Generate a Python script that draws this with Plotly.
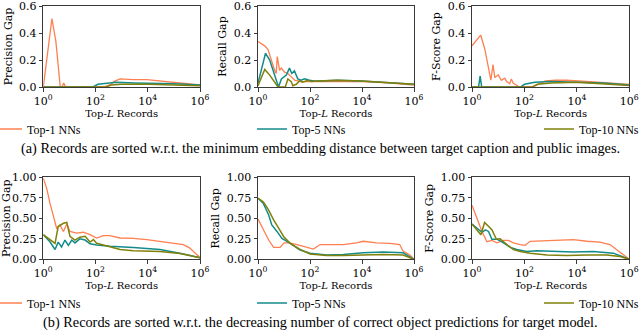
import plotly.graph_objects as go

# ---------------- data (x given as log10 of Top-L) ----------------
series_names = ["Top-1 NNs", "Top-5 NNs", "Top-10 NNs"]
colors = ["#ff7f50", "#138b8b", "#80800a"]

# (a) sorted by minimum embedding distance
a_prec_top1_logL = [0, 0.33, 0.48, 0.65, 0.72, 0.78, 0.85, 1.5, 2.3, 2.6, 2.7, 2.94, 3.2, 3.45, 3.96, 4.47, 5.23, 6.0]
a_prec_top1 = [0, 0.507, 0.34, 0.0, 0.0, 0.03, 0.0, 0.0, 0.0, 0.02, 0.04, 0.06, 0.055, 0.055, 0.055, 0.045, 0.03, 0.015]
a_prec_top5_logL = [0, 1.9, 2.09, 2.4, 2.8, 3.5, 4.0, 5.0, 6.0]
a_prec_top5 = [0, 0, 0.02, 0.025, 0.035, 0.03, 0.03, 0.025, 0.015]
a_prec_top10_logL = [0, 2.4, 2.6, 3.0, 4.0, 5.0, 6.0]
a_prec_top10 = [0, 0, 0.015, 0.02, 0.02, 0.015, 0.01]

a_rec_top1_logL = [0, 0.26, 0.38, 0.51, 0.64, 0.7, 0.74, 0.83, 0.9, 1.02, 1.15, 1.28, 1.41, 1.66, 1.92, 2.5, 3.0, 4.0, 5.0, 6.0]
a_rec_top1 = [0.337, 0.305, 0.28, 0.196, 0.124, 0.10, 0.226, 0.124, 0.14, 0.11, 0.10, 0.075, 0.05, 0.04, 0.04, 0.04, 0.045, 0.04, 0.03, 0.015]
a_rec_top5_logL = [0, 0.29, 0.45, 0.57, 0.7, 0.79, 0.9, 1.09, 1.21, 1.3, 1.4, 1.53, 1.66, 1.79, 1.98, 2.17, 2.43, 3.07, 3.96, 4.98, 6.0]
a_rec_top5 = [0.03, 0.25, 0.20, 0.13, 0.045, 0.0, 0.06, 0.088, 0.14, 0.10, 0.12, 0.06, 0.05, 0.06, 0.05, 0.045, 0.045, 0.05, 0.045, 0.03, 0.02]
a_rec_top10_logL = [0, 0.26, 0.45, 0.64, 0.77, 0.9, 1.05, 1.15, 1.28, 1.34, 1.47, 1.6, 1.72, 1.92, 2.05, 2.3, 3.0, 4.0, 5.0, 6.0]
a_rec_top10 = [0.01, 0.13, 0.088, 0.04, 0.0, 0.0, 0.0, 0.06, 0.04, 0.01, 0.02, 0.045, 0.035, 0.05, 0.04, 0.045, 0.05, 0.045, 0.03, 0.02]

a_f_top1_logL = [0, 0.33, 0.49, 0.61, 0.72, 0.8, 0.87, 1.0, 1.12, 1.25, 1.32, 1.44, 1.5, 1.57, 1.7, 1.8, 2.3, 2.6, 2.8, 3.2, 3.6, 4.5, 5.2, 6.0]
a_f_top1 = [0.305, 0.385, 0.28, 0.16, 0.05, 0.167, 0.07, 0.09, 0.05, 0.065, 0.04, 0.025, 0.06, 0.03, 0.01, 0.0, 0.0, 0.03, 0.045, 0.05, 0.05, 0.04, 0.03, 0.02]
a_f_top5_logL = [0, 0.25, 0.31, 0.37, 1.0, 1.85, 2.0, 2.4, 3.0, 4.0, 5.0, 6.0]
a_f_top5 = [0, 0, 0.08, 0, 0, 0, 0.02, 0.035, 0.04, 0.035, 0.03, 0.015]
a_f_top10_logL = [0, 2.3, 2.5, 3.0, 4.0, 5.0, 6.0]
a_f_top10 = [0, 0, 0.02, 0.03, 0.035, 0.025, 0.012]

# (b) sorted by decreasing number of correct object predictions
b_prec_top1_logL = [0, 0.13, 0.26, 0.38, 0.51, 0.64, 0.77, 0.9, 1.02, 1.28, 1.53, 1.79, 2.04, 2.3, 2.55, 2.94, 3.45, 3.96, 4.47, 4.98, 5.36, 5.6, 5.8, 6.0]
b_prec_top1 = [0.99, 0.866, 0.68, 0.52, 0.38, 0.42, 0.34, 0.43, 0.34, 0.32, 0.33, 0.30, 0.26, 0.29, 0.29, 0.26, 0.255, 0.24, 0.22, 0.20, 0.18, 0.14, 0.085, 0.02]
b_prec_top5_logL = [0, 0.26, 0.45, 0.57, 0.7, 0.83, 0.96, 1.09, 1.21, 1.4, 1.6, 1.79, 2.04, 2.55, 3.45, 4.47, 5.23, 6.0]
b_prec_top5 = [0.30, 0.21, 0.12, 0.21, 0.15, 0.235, 0.17, 0.235, 0.20, 0.25, 0.235, 0.19, 0.175, 0.16, 0.145, 0.12, 0.075, 0.02]
b_prec_top10_logL = [0, 0.26, 0.45, 0.57, 0.77, 0.9, 1.02, 1.21, 1.4, 1.6, 1.79, 1.92, 2.04, 2.3, 2.55, 2.94, 3.45, 4.47, 5.23, 6.0]
b_prec_top10 = [0.30, 0.235, 0.195, 0.40, 0.44, 0.45, 0.28, 0.235, 0.27, 0.28, 0.21, 0.24, 0.195, 0.175, 0.155, 0.12, 0.105, 0.095, 0.07, 0.02]

b_rec_top1_logL = [0, 0.21, 0.41, 0.6, 0.85, 1.0, 1.2, 1.5, 1.88, 2.13, 2.39, 2.77, 3.28, 3.79, 4.05, 4.56, 5.07, 5.45, 5.58, 5.84, 6.0]
b_rec_top1 = [0.49, 0.36, 0.235, 0.146, 0.146, 0.20, 0.20, 0.18, 0.15, 0.125, 0.18, 0.18, 0.18, 0.20, 0.22, 0.20, 0.195, 0.18, 0.10, 0.052, 0.0]
b_rec_top5_logL = [0, 0.21, 0.41, 0.53, 0.73, 0.92, 1.24, 1.62, 2.0, 2.64, 3.28, 4.05, 4.81, 5.58, 6.0]
b_rec_top5 = [0.745, 0.68, 0.54, 0.42, 0.34, 0.256, 0.195, 0.113, 0.073, 0.053, 0.06, 0.08, 0.09, 0.08, 0.0]
b_rec_top10_logL = [0, 0.21, 0.41, 0.6, 0.8, 0.99, 1.24, 1.62, 2.0, 2.64, 3.28, 4.05, 4.81, 5.58, 6.0]
b_rec_top10 = [0.745, 0.70, 0.60, 0.48, 0.378, 0.276, 0.195, 0.12, 0.065, 0.045, 0.045, 0.053, 0.06, 0.053, 0.0]

b_f_top1_logL = [0, 0.19, 0.38, 0.57, 0.76, 0.95, 1.2, 1.39, 1.58, 1.84, 2.03, 2.22, 2.85, 3.36, 3.87, 4.38, 4.88, 5.26, 5.52, 5.77, 6.0]
b_f_top1 = [0.66, 0.5, 0.34, 0.215, 0.23, 0.2, 0.23, 0.23, 0.2, 0.18, 0.17, 0.22, 0.23, 0.23, 0.24, 0.22, 0.21, 0.18, 0.12, 0.06, 0.0]
b_f_top5_logL = [0, 0.25, 0.38, 0.51, 0.63, 0.76, 0.95, 1.2, 1.46, 1.71, 2.09, 2.47, 3.1, 3.87, 4.63, 5.39, 6.0]
b_f_top5 = [0.43, 0.36, 0.33, 0.36, 0.34, 0.245, 0.245, 0.2, 0.145, 0.12, 0.095, 0.105, 0.095, 0.09, 0.095, 0.075, 0.0]
b_f_top10_logL = [0, 0.25, 0.34, 0.48, 0.63, 0.76, 0.93, 1.07, 1.33, 1.58, 1.84, 2.22, 2.85, 3.61, 4.38, 5.14, 5.65, 6.0]
b_f_top10 = [0.43, 0.33, 0.30, 0.45, 0.40, 0.36, 0.245, 0.25, 0.18, 0.12, 0.095, 0.075, 0.053, 0.045, 0.053, 0.053, 0.035, 0.0]

x_tick_vals = [1, 100, 10000, 1000000]
x_tick_text = ["10<sup>0</sup>", "10<sup>2</sup>", "10<sup>4</sup>", "10<sup>6</sup>"]
y_tick_vals_a = [0, 0.2, 0.4, 0.6]
y_tick_text_a = ["0.0", "0.2", "0.4", "0.6"]
y_tick_vals_b = [0, 0.25, 0.5, 0.75, 1.0]
y_tick_text_b = ["0.00", "0.25", "0.50", "0.75", "1.00"]
y_titles = ["Precision Gap", "Recall Gap", "F-Score Gap"]
x_title = "Top-<i>L</i> Records"
caption_a = "(a) Records are sorted w.r.t. the minimum embedding distance between target caption and public images."
caption_b = "(b) Records are sorted w.r.t. the decreasing number of correct object predictions for target model."

panels = [
    [(a_prec_top1_logL, a_prec_top1), (a_prec_top5_logL, a_prec_top5), (a_prec_top10_logL, a_prec_top10)],
    [(a_rec_top1_logL, a_rec_top1), (a_rec_top5_logL, a_rec_top5), (a_rec_top10_logL, a_rec_top10)],
    [(a_f_top1_logL, a_f_top1), (a_f_top5_logL, a_f_top5), (a_f_top10_logL, a_f_top10)],
    [(b_prec_top1_logL, b_prec_top1), (b_prec_top5_logL, b_prec_top5), (b_prec_top10_logL, b_prec_top10)],
    [(b_rec_top1_logL, b_rec_top1), (b_rec_top5_logL, b_rec_top5), (b_rec_top10_logL, b_rec_top10)],
    [(b_f_top1_logL, b_f_top1), (b_f_top5_logL, b_f_top5), (b_f_top10_logL, b_f_top10)],
]

# ---------------- layout geometry ----------------
W, H = 640, 333
x_doms = [(43.3, 200.0), (258.0, 414.0), (472.0, 629.3)]
y_doms = [(6.0, 87.0), (177.3, 259.3)]
legend_y_px = [129, 303]
legend_x_px = [-13, 252, 539]
caption_y_px = [148, 322]

AX_FONT = "DejaVu Serif"
TXT_FONT = "Liberation Serif"
SPINE = "#3a3a3a"

fig = go.Figure()
layout = dict(width=W, height=H, margin=dict(l=0, r=0, t=0, b=0, autoexpand=False),
              paper_bgcolor="white", plot_bgcolor="white")

for p, series in enumerate(panels):
    row, col = divmod(p, 3)
    n = p + 1
    xa = "x" if n == 1 else f"x{n}"
    ya = "y" if n == 1 else f"y{n}"
    for s, (lx, yv) in enumerate(series):
        show = (col == 0)
        leg_idx = row * 3 + s + 1
        fig.add_trace(go.Scatter(
            x=[10 ** v for v in lx], y=yv, mode="lines",
            line=dict(color=colors[s], width=1.5 if s else 1.3),
            name=series_names[s], xaxis=xa, yaxis=ya,
            showlegend=show, hoverinfo="skip",
            legend="legend" if leg_idx == 1 else f"legend{leg_idx}",
        ))
    x0, x1 = x_doms[col]
    y0, y1 = y_doms[row]
    xkey = "xaxis" if n == 1 else f"xaxis{n}"
    ykey = "yaxis" if n == 1 else f"yaxis{n}"
    layout[xkey] = dict(
        type="log", range=[0, 6], domain=[x0 / W, x1 / W], anchor=ya, automargin=False,
        tickvals=x_tick_vals, ticktext=x_tick_text, ticklabeloverflow="allow",
        ticks="outside", ticklen=3.5, tickwidth=0.8, tickcolor=SPINE,
        showline=True, linecolor=SPINE, linewidth=1, mirror=True,
        showgrid=False, zeroline=False,
        tickfont=dict(family=AX_FONT, size=11, color="black"),
        title=dict(text=x_title, font=dict(family=AX_FONT, size=10, color="black"), standoff=2),
    )
    if row == 0:
        ydict = dict(range=[0, 0.6 * 1.0005], tickvals=y_tick_vals_a, ticktext=y_tick_text_a)
    else:
        ydict = dict(range=[0, 1.0 * 1.0005], tickvals=y_tick_vals_b, ticktext=y_tick_text_b)
    ydict.update(
        domain=[1 - y1 / H, 1 - y0 / H], anchor=xa, automargin=False,
        ticklabeloverflow="allow",
        ticks="outside", ticklen=3.5, tickwidth=0.8, tickcolor=SPINE,
        showline=True, linecolor=SPINE, linewidth=1, mirror=True,
        showgrid=False, zeroline=False,
        tickfont=dict(family=AX_FONT, size=11, color="black"),
        title=dict(text=y_titles[col], font=dict(family=AX_FONT, size=11, color="black"), standoff=4),
    )
    layout[ykey] = ydict

for r in range(2):
    for s in range(3):
        idx = r * 3 + s + 1
        key = "legend" if idx == 1 else f"legend{idx}"
        layout[key] = dict(
            x=legend_x_px[s] / W, y=1 - legend_y_px[r] / H,
            xanchor="left", yanchor="middle", orientation="h",
            bgcolor="rgba(0,0,0,0)", borderwidth=0,
            font=dict(family=TXT_FONT, size=12, color="black"),
            itemwidth=30, tracegroupgap=0,
        )

anns = []
for r, cap in enumerate([caption_a, caption_b]):
    anns.append(dict(text=cap, x=0.5, y=1 - caption_y_px[r] / H, xref="paper", yref="paper",
                     xanchor="center", yanchor="middle", showarrow=False,
                     font=dict(family=TXT_FONT, size=14.3, color="black")))
layout["annotations"] = anns

fig.update_layout(**layout)
fig.write_html(
    "out.html",
    config={"displayModeBar": False},
    post_script="document.body.style.margin='0';document.body.style.overflow='hidden';",
)
